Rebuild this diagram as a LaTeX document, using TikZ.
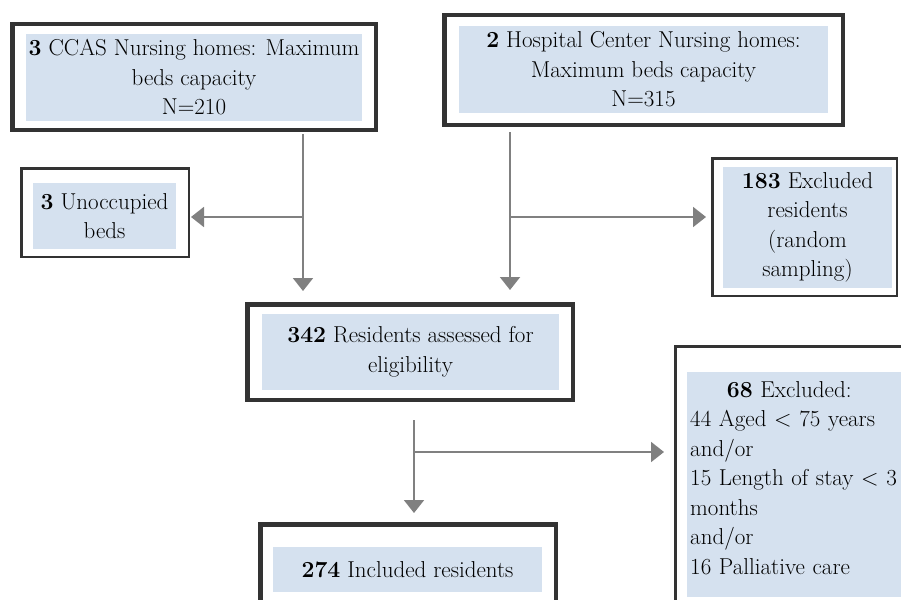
\documentclass[tikz,border=0pt]{standalone}
\usetikzlibrary{arrows.meta}
\definecolor{frmgray}{HTML}{333333}
\definecolor{boxblue}{HTML}{D5E1EF}
\definecolor{arrgray}{HTML}{808080}
\begin{document}
\begin{tikzpicture}[
  x=1pt, y=-1pt,
  font=\fontsize{23}{29.5}\selectfont,
  frm/.style={draw=frmgray, line width=4.5pt, fill=white, inner sep=0pt},
  frmthin/.style={draw=frmgray, line width=2.5pt, fill=white, inner sep=0pt},
  inbox/.style={fill=boxblue, align=center, inner sep=0pt},
  ln/.style={draw=arrgray, line width=2pt},
  arr/.style={ln, -{Triangle[width=20pt,length=13pt]}}
]
\useasboundingbox (0,0) rectangle (901,599);
\clip (0,0) rectangle (901,599);

\node[frm, minimum width=363.5pt, minimum height=105.5pt] (ccas) at (194,77) {};
\node[inbox, minimum width=336pt, minimum height=87pt] (ccastxt) at (194,77.5)
  {\textbf{3} CCAS Nursing homes: Maximum\\ beds capacity\\ N=210};

\node[frm, minimum width=398.5pt, minimum height=109.5pt] (hosp) at (643.5,70) {};
\node[inbox, minimum width=369pt, minimum height=87pt] (hosptxt) at (643.5,69.5)
  {\textbf{2} Hospital Center Nursing homes:\\ Maximum beds capacity\\ N=315};

\node[frmthin, minimum width=167.5pt, minimum height=88.5pt] (unocc) at (105,212.5) {};
\node[inbox, minimum width=143pt, minimum height=66pt] (unocctxt) at (104.5,216)
  {\textbf{3} Unoccupied\\ beds};

\node[frmthin, minimum width=184.5pt, minimum height=137.5pt] (excl183) at (804.5,227) {};
\node[inbox, minimum width=169pt, minimum height=121pt] (excl183txt) at (807.5,227.5)
  {\textbf{183} Excluded\\ residents\\ (random\\ sampling)};

\node[frm, minimum width=325.5pt, minimum height=95.5pt] (assess) at (410,352) {};
\node[inbox, minimum width=297pt, minimum height=76pt] (assesstxt) at (410.5,352)
  {\textbf{342} Residents assessed for\\ eligibility};

\node[frmthin, minimum width=253.5pt, minimum height=292.5pt] (excl68) at (802,492.5) {};
\node[fill=boxblue, minimum width=228pt, minimum height=225pt] (excl68fill) at (801,484.5) {};
\node[anchor=north west, align=left, text width=215pt, inner sep=0pt] (excl68txt) at (690,381)
  {\makebox[198pt]{\textbf{68} Excluded:}\\ 44 Aged < 75 years\\ and/or\\ 15 Length of stay < 3\\ months\\ and/or\\ 16 Palliative care};

\node[frm, minimum width=295.5pt, minimum height=113.5pt] (incl) at (408,581) {};
\node[inbox, minimum width=269pt, minimum height=45pt] (incltxt) at (407.5,569.5)
  {\textbf{274} Included residents};

\coordinate (lsplit) at (303,217);
\coordinate (rsplit) at (510,217);
\coordinate (bsplit) at (414,452);

\draw[ln, shorten <=2pt] (ccas.south -| lsplit) -- (lsplit);
\draw[arr, shorten >=11pt] (lsplit) -- (lsplit |- assess.north);
\draw[arr, shorten >=1pt] (lsplit) -- (lsplit -| unocc.east);
\draw[ln, shorten <=5pt] (hosp.south -| rsplit) -- (rsplit);
\draw[arr, shorten >=12pt] (rsplit) -- (rsplit |- assess.north);
\draw[arr, shorten >=5pt] (rsplit) -- (rsplit -| excl183.west);
\draw[ln, shorten <=18pt] (assess.south -| bsplit) -- (bsplit);
\draw[arr, shorten >=9pt] (bsplit) -- (bsplit |- incl.north);
\draw[arr, shorten >=10pt] (bsplit) -- (bsplit -| excl68.west);
\end{tikzpicture}
\end{document}
